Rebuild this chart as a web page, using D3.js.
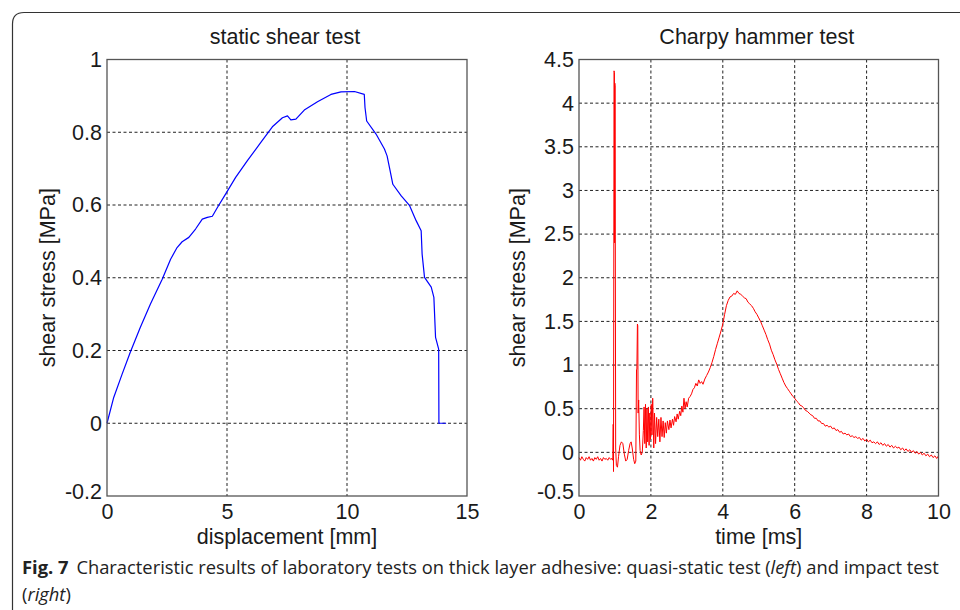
<!DOCTYPE html>
<html><head><meta charset="utf-8">
<script src="https://cdn.jsdelivr.net/npm/d3@7"></script>
<style>body{margin:0;background:#fff}svg{display:block}</style>
</head><body>
<svg id="c" width="960" height="610"></svg>
<script>
// ---- data ----
const leftTitle = "static shear test";
const rightTitle = "Charpy hammer test";
const leftXTicks = [0, 5, 10, 15];
const leftYTicks = [-0.2, 0, 0.2, 0.4, 0.6, 0.8, 1];
const rightXTicks = [0, 2, 4, 6, 8, 10];
const rightYTicks = [-0.5, 0, 0.5, 1, 1.5, 2, 2.5, 3, 3.5, 4, 4.5];
const leftXLabel = "displacement [mm]";
const rightXLabel = "time [ms]";
const yLabel = "shear stress [MPa]";

// static shear test: [displacement mm, stress MPa]
const staticCurve = [
[0,0.0],[0.28,0.071],[0.63,0.135],[0.97,0.195],[1.39,0.264],[1.81,0.328],[2.30,0.396],
[2.65,0.451],[2.92,0.483],[3.13,0.499],[3.41,0.511],[3.69,0.534],[3.97,0.561],[4.18,0.566],
[4.39,0.569],[4.60,0.593],[4.94,0.630],[5.36,0.676],[5.85,0.722],[6.41,0.772],[6.89,0.815],
[7.31,0.840],[7.52,0.845],[7.66,0.834],[7.87,0.836],[8.22,0.861],[8.77,0.884],[9.33,0.904],
[9.75,0.911],[10.31,0.912],[10.72,0.904],[10.75,0.868],[10.82,0.831],[11.21,0.795],
[11.56,0.754],[11.67,0.735],[11.77,0.703],[11.91,0.657],[12.26,0.625],[12.61,0.598],
[12.88,0.557],[13.09,0.529],[13.13,0.465],[13.23,0.401],[13.51,0.374],[13.62,0.346],
[13.69,0.236],[13.82,0.204],[13.83,0.0],[14.13,0.0]
];

// Charpy hammer test: [time ms, stress MPa]
const impactCurve = [
[0.00,-0.06],[0.04,-0.09],[0.08,-0.05],[0.12,-0.08],[0.16,-0.10],[0.20,-0.06],[0.24,-0.08],
[0.28,-0.05],[0.32,-0.09],[0.36,-0.07],[0.40,-0.10],[0.44,-0.06],[0.48,-0.08],[0.52,-0.05],
[0.56,-0.09],[0.60,-0.07],[0.64,-0.10],[0.68,-0.06],[0.72,-0.08],[0.76,-0.07],[0.80,-0.09],
[0.84,-0.06],[0.88,-0.08],[0.92,-0.07],[0.94,-0.09],
[0.95,0.32],[0.955,0.30],[0.96,-0.22],[0.975,4.37],[0.985,4.35],[0.99,2.4],[0.995,4.23],
[1.005,4.20],[1.01,2.5],[1.02,0.05],[1.04,-0.15],[1.07,-0.17],[1.10,-0.05],[1.14,0.08],
[1.18,0.12],[1.22,0.10],[1.26,-0.02],[1.30,-0.10],[1.34,-0.08],[1.38,0.02],[1.42,0.10],
[1.45,0.12],[1.48,0.05],[1.52,-0.08],[1.55,-0.13],[1.58,-0.10],[1.60,0.95],[1.61,0.95],
[1.625,1.47],[1.635,1.45],[1.645,0.45],[1.66,0.60],[1.68,0.20],[1.70,0.02],[1.73,-0.03],
[1.76,0.00],[1.79,0.25],[1.81,0.52],[1.83,0.10],[1.85,0.55],[1.87,0.05],[1.89,0.50],
[1.91,0.12],[1.93,0.52],[1.95,0.08],[1.97,0.45],[1.99,0.15],[2.01,0.55],[2.03,0.20],
[2.05,0.62],[2.08,0.05],[2.10,0.45],[2.13,0.10],[2.16,0.40],[2.19,0.18],[2.22,0.38],
[2.25,0.12],[2.28,0.40],[2.31,0.18],[2.34,0.36],[2.37,0.17],[2.40,0.34],[2.43,0.22],
[2.46,0.36],[2.50,0.26],[2.53,0.37],[2.56,0.28],[2.60,0.38],[2.63,0.31],[2.66,0.41],
[2.70,0.35],[2.73,0.44],[2.76,0.38],[2.80,0.47],[2.83,0.42],[2.86,0.53],[2.89,0.46],
[2.92,0.62],[2.95,0.50],[2.98,0.58],[3.01,0.52],[3.05,0.62],[3.09,0.64],[3.13,0.67],
[3.17,0.72],[3.21,0.74],[3.25,0.79],[3.29,0.76],[3.33,0.83],[3.37,0.79],[3.41,0.81],
[3.45,0.78],[3.50,0.84],[3.55,0.88],[3.60,0.92],[3.65,0.97],[3.70,1.03],[3.75,1.10],
[3.80,1.18],[3.85,1.25],[3.90,1.32],[3.95,1.39],[4.00,1.47],[4.05,1.58],[4.10,1.68],
[4.15,1.74],[4.20,1.78],[4.25,1.79],[4.30,1.82],[4.35,1.81],[4.40,1.85],[4.45,1.82],
[4.50,1.81],[4.55,1.79],[4.60,1.77],[4.65,1.76],[4.70,1.72],[4.75,1.70],[4.80,1.68],
[4.85,1.65],[4.90,1.61],[4.95,1.58],[5.00,1.54],[5.05,1.50],[5.10,1.45],[5.15,1.40],
[5.20,1.35],[5.25,1.29],[5.30,1.24],[5.35,1.17],[5.40,1.12],[5.45,1.06],[5.50,1.01],
[5.55,0.95],[5.60,0.90],[5.65,0.85],[5.70,0.80],[5.75,0.76],[5.80,0.73],[5.85,0.70],
[5.90,0.67],[5.95,0.64],[6.00,0.62],[6.05,0.59],[6.10,0.57],[6.15,0.54],[6.20,0.53],
[6.25,0.51],[6.30,0.48],[6.35,0.47],[6.40,0.45],[6.45,0.43],[6.50,0.42],[6.55,0.39],
[6.60,0.39],[6.65,0.36],[6.70,0.36],[6.75,0.33],[6.80,0.33],[6.85,0.30],[6.90,0.31],
[6.95,0.29],[7.00,0.30],[7.05,0.27],[7.10,0.28],[7.15,0.25],[7.20,0.26],[7.25,0.23],
[7.30,0.24],[7.35,0.21],[7.40,0.22],[7.45,0.20],[7.50,0.21],[7.55,0.18],[7.60,0.19],
[7.65,0.17],[7.70,0.18],[7.75,0.16],[7.80,0.17],[7.85,0.14],[7.90,0.16],[7.95,0.13],
[8.00,0.15],[8.05,0.12],[8.10,0.14],[8.15,0.11],[8.20,0.12],[8.25,0.10],[8.30,0.12],
[8.35,0.09],[8.40,0.11],[8.45,0.08],[8.50,0.10],[8.55,0.07],[8.60,0.09],[8.65,0.06],
[8.70,0.08],[8.75,0.05],[8.80,0.07],[8.85,0.05],[8.90,0.06],[8.95,0.03],[9.00,0.05],
[9.05,0.02],[9.10,0.04],[9.15,0.01],[9.20,0.03],[9.25,0.00],[9.30,0.02],[9.35,-0.01],
[9.40,0.01],[9.45,-0.02],[9.50,0.00],[9.55,-0.03],[9.60,-0.01],[9.65,-0.04],[9.70,-0.02],
[9.75,-0.05],[9.80,-0.03],[9.85,-0.06],[9.90,-0.04],[9.95,-0.07],[10.00,-0.04]
];

const captionBold = "Fig. 7";
const captionLine1 = "Characteristic results of laboratory tests on thick layer adhesive: quasi-static test (";
const captionItal1 = "left";
const captionLine1b = ") and impact test";
const captionItal2 = "right";

// ---- drawing ----
const svg = d3.select("#c");
const FONT = "'Liberation Sans', Arial, sans-serif";
const TICK_FS = 21.5, LABEL_FS = 21.5, TITLE_FS = 21.5;

// outer frame (top & left with rounded corner)
svg.append("path")
  .attr("d", "M12.5,610 L12.5,24 Q12.5,12.5 24,12.5 L960,12.5")
  .attr("fill", "none").attr("stroke", "#333").attr("stroke-width", 1.2);

function panel(cfg) {
  const x = d3.scaleLinear().domain(cfg.xDomain).range([cfg.left, cfg.right]);
  const y = d3.scaleLinear().domain(cfg.yDomain).range([cfg.bottom, cfg.top]);
  const g = svg.append("g");

  // grid
  g.append("g").selectAll("line").data(cfg.xTicks.slice(1, -1)).join("line")
    .attr("x1", d => x(d)).attr("x2", d => x(d))
    .attr("y1", cfg.top).attr("y2", cfg.bottom)
    .attr("stroke", "#222").attr("stroke-width", 1).attr("stroke-dasharray", "3,2.5");
  g.append("g").selectAll("line").data(cfg.yTicks.slice(1, -1)).join("line")
    .attr("y1", d => y(d)).attr("y2", d => y(d))
    .attr("x1", cfg.left).attr("x2", cfg.right)
    .attr("stroke", "#222").attr("stroke-width", 1).attr("stroke-dasharray", "3,2.5");

  // data line
  const line = d3.line().x(d => x(d[0])).y(d => y(d[1]));
  g.append("path").datum(cfg.data).attr("d", line)
    .attr("fill", "none").attr("stroke", cfg.color).attr("stroke-width", cfg.lw)
    .attr("stroke-linejoin", "round");

  // box
  g.append("rect").attr("x", cfg.left).attr("y", cfg.top)
    .attr("width", cfg.right - cfg.left).attr("height", cfg.bottom - cfg.top)
    .attr("fill", "none").attr("stroke", "#555").attr("stroke-width", 1.3);

  // axes labels via d3 axes
  const fmt = d => String(d);
  const ax = d3.axisBottom(x).tickValues(cfg.xTicks).tickSize(0).tickPadding(8).tickFormat(fmt);
  const axG = g.append("g").attr("transform", `translate(0,${cfg.bottom})`).call(ax);
  const ay = d3.axisLeft(y).tickValues(cfg.yTicks).tickSize(0).tickPadding(5).tickFormat(fmt);
  const ayG = g.append("g").attr("transform", `translate(${cfg.left},0)`).call(ay);
  [axG, ayG].forEach(a => {
    a.select(".domain").remove();
    a.selectAll("text").attr("font-family", FONT).attr("font-size", TICK_FS).attr("fill", "#1a1a1a");
  });
  ayG.selectAll("text").filter(d => d === cfg.yDomain[0]).attr("dy", "0.12em");

  // title
  g.append("text").attr("x", (cfg.left + cfg.right) / 2 - 2).attr("y", cfg.top - 16)
    .attr("text-anchor", "middle").attr("font-family", FONT).attr("font-size", TITLE_FS)
    .attr("fill", "#1a1a1a").text(cfg.title);
  // x label
  g.append("text").attr("x", (cfg.left + cfg.right) / 2).attr("y", cfg.bottom + 48)
    .attr("text-anchor", "middle").attr("font-family", FONT).attr("font-size", LABEL_FS)
    .attr("fill", "#1a1a1a").text(cfg.xLabel);
  // y label
  const cy = (cfg.top + cfg.bottom) / 2;
  g.append("text").attr("transform", `translate(${cfg.yLabelX},${cy}) rotate(-90)`)
    .attr("text-anchor", "middle").attr("font-family", FONT).attr("font-size", LABEL_FS)
    .attr("fill", "#1a1a1a").text(yLabel);
}

panel({
  left: 107, right: 467, top: 59.5, bottom: 496,
  xDomain: [0, 15], yDomain: [-0.2, 1],
  xTicks: leftXTicks, yTicks: leftYTicks,
  data: staticCurve, color: "#0000ff", lw: 1.2,
  title: leftTitle, xLabel: leftXLabel, yLabelX: 55
});
panel({
  left: 579, right: 938.5, top: 59.5, bottom: 496,
  xDomain: [0, 10], yDomain: [-0.5, 4.5],
  xTicks: rightXTicks, yTicks: rightYTicks,
  data: impactCurve, color: "#ff0000", lw: 1,
  title: rightTitle, xLabel: rightXLabel, yLabelX: 525
});

// caption (condensed to match width)
const CF = "'Open Sans', 'Noto Sans', sans-serif";
const CAP_FS = 18.5;
const cap = svg.append("text").attr("font-family", CF).attr("font-size", CAP_FS).attr("fill", "#222");
cap.append("tspan").attr("font-weight", "bold").text(captionBold);
cap.append("tspan").attr("dx", 8).text(captionLine1);
cap.append("tspan").attr("font-style", "italic").text(captionItal1);
cap.append("tspan").text(captionLine1b);
const w = cap.node().getBBox().width;
const k = 918 / w;
cap.attr("transform", `translate(22,574) scale(${k},1)`);
const cap2 = svg.append("text").attr("font-family", CF).attr("font-size", CAP_FS).attr("fill", "#222")
  .attr("transform", `translate(22,600.5) scale(${k},1)`);
cap2.append("tspan").text("(");
cap2.append("tspan").attr("font-style", "italic").text(captionItal2);
cap2.append("tspan").text(")");
</script>
</body></html>
